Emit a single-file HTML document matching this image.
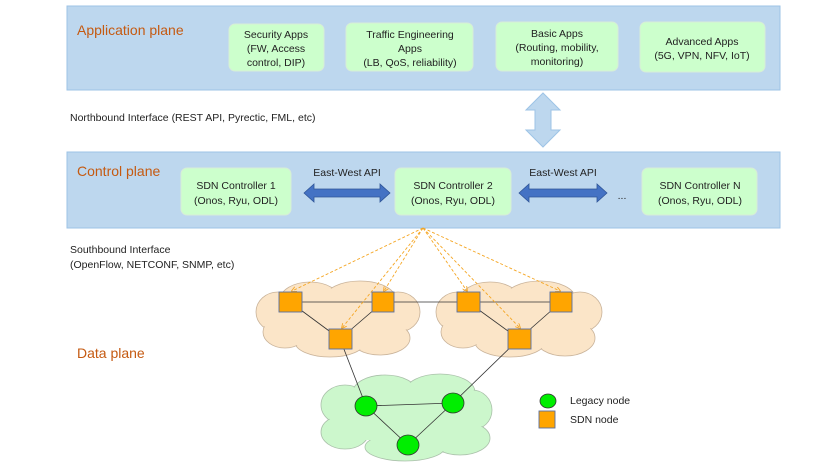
<!DOCTYPE html>
<html><head><meta charset="utf-8"><style>
html,body{margin:0;padding:0;background:#fff;}
svg{display:block;font-family:"Liberation Sans",sans-serif;}
</style></head><body>
<svg width="830" height="467" viewBox="0 0 830 467" xmlns="http://www.w3.org/2000/svg">
<defs>
<marker id="ah" markerWidth="6" markerHeight="6" refX="5" refY="3" orient="auto"><path d="M0,0 L6,3 L0,6" fill="none" stroke="#f5a623" stroke-width="1"/></marker>
</defs>
<rect x="67" y="6" width="713" height="84" fill="#bdd7ee" stroke="#9dc3e6"/>
<rect x="67" y="152" width="713" height="76" fill="#bdd7ee" stroke="#9dc3e6"/>
<g fill="#c55a11" font-size="14">
<text x="77" y="35">Application plane</text>
<text x="77" y="176">Control plane</text>
<text x="77" y="358">Data plane</text>
</g>
<g fill="#ccffcc" stroke="#d8ecd8">
<rect x="229" y="24" width="95" height="47" rx="6"/>
<rect x="346" y="23" width="127" height="48" rx="6"/>
<rect x="496" y="22" width="122" height="49" rx="6"/>
<rect x="640" y="22" width="125" height="50" rx="6"/>
<rect x="181" y="168" width="110" height="47" rx="6"/>
<rect x="395" y="168" width="116" height="47" rx="6"/>
<rect x="642" y="168" width="115" height="47" rx="6"/>
</g>
<g font-size="10.5" fill="#222" text-anchor="middle">
<text x="276" y="38">Security Apps</text><text x="276" y="52">(FW, Access</text><text x="276" y="66">control, DIP)</text>
<text x="410" y="38">Traffic Engineering</text><text x="410" y="52">Apps</text><text x="410" y="66">(LB, QoS, reliability)</text>
<text x="557" y="37">Basic Apps</text><text x="557" y="51">(Routing, mobility,</text><text x="557" y="65">monitoring)</text>
<text x="702" y="45">Advanced Apps</text><text x="702" y="59">(5G, VPN, NFV, IoT)</text>
<text x="236" y="189">SDN Controller 1</text><text x="236" y="204">(Onos, Ryu, ODL)</text>
<text x="453" y="189">SDN Controller 2</text><text x="453" y="204">(Onos, Ryu, ODL)</text>
<text x="700" y="189">SDN Controller N</text><text x="700" y="204">(Onos, Ryu, ODL)</text>
<text x="347" y="176">East-West API</text>
<text x="563" y="176">East-West API</text>
<text x="622" y="199">...</text>
</g>
<g font-size="10.5" fill="#222">
<text x="70" y="121">Northbound Interface (REST API, Pyrectic, FML, etc)</text>
<text x="70" y="253">Southbound Interface</text>
<text x="70" y="268">(OpenFlow, NETCONF, SNMP, etc)</text>
<text x="570" y="404">Legacy node</text>
<text x="570" y="423">SDN node</text>
</g>
<path d="M304,193 L314,184 L314,189 L380,189 L380,184 L390,193 L380,202 L380,197 L314,197 L314,202 Z" fill="#4472c4" stroke="#2f5597" stroke-width="0.8"/>
<path d="M519,193 L529,184 L529,189 L597,189 L597,184 L607,193 L597,202 L597,197 L529,197 L529,202 Z" fill="#4472c4" stroke="#2f5597" stroke-width="0.8"/>
<path d="M543,93 L560,110 L551,110 L551,130 L560,130 L543,147 L526,130 L535,130 L535,110 L526,110 Z" fill="#bdd7ee" stroke="#9dc3e6"/>
<g>
<g fill="#fbe5c8" stroke="#c9b39a" stroke-width="0.8">
<ellipse cx="278" cy="312" rx="22" ry="20"/><ellipse cx="310" cy="300" rx="30" ry="18"/><ellipse cx="360" cy="298" rx="35" ry="17"/><ellipse cx="398" cy="312" rx="22" ry="20"/><ellipse cx="380" cy="338" rx="30" ry="17"/><ellipse cx="330" cy="342" rx="35" ry="15"/><ellipse cx="285" cy="332" rx="22" ry="16"/>
<ellipse cx="458" cy="312" rx="22" ry="20"/><ellipse cx="490" cy="300" rx="30" ry="18"/><ellipse cx="540" cy="298" rx="35" ry="17"/><ellipse cx="580" cy="312" rx="22" ry="20"/><ellipse cx="565" cy="338" rx="30" ry="18"/><ellipse cx="510" cy="342" rx="35" ry="15"/><ellipse cx="463" cy="332" rx="22" ry="16"/>
</g>
<g fill="#fbe5c8">
<ellipse cx="278" cy="312" rx="21" ry="19"/><ellipse cx="310" cy="300" rx="29" ry="17"/><ellipse cx="360" cy="298" rx="34" ry="16"/><ellipse cx="398" cy="312" rx="21" ry="19"/><ellipse cx="380" cy="338" rx="29" ry="16"/><ellipse cx="330" cy="342" rx="34" ry="14"/><ellipse cx="285" cy="332" rx="21" ry="15"/><rect x="280" y="300" width="120" height="40"/>
<ellipse cx="458" cy="312" rx="21" ry="19"/><ellipse cx="490" cy="300" rx="29" ry="17"/><ellipse cx="540" cy="298" rx="34" ry="16"/><ellipse cx="580" cy="312" rx="21" ry="19"/><ellipse cx="565" cy="338" rx="29" ry="17"/><ellipse cx="510" cy="342" rx="34" ry="14"/><ellipse cx="463" cy="332" rx="21" ry="15"/><rect x="460" y="300" width="120" height="40"/>
</g>
<g fill="#ccf7cc" stroke="#aac0aa" stroke-width="0.8">
<ellipse cx="345" cy="405" rx="24" ry="20"/><ellipse cx="385" cy="392" rx="32" ry="17"/><ellipse cx="440" cy="392" rx="35" ry="18"/><ellipse cx="472" cy="410" rx="20" ry="20"/><ellipse cx="460" cy="438" rx="30" ry="17"/><ellipse cx="405" cy="447" rx="40" ry="14"/><ellipse cx="345" cy="432" rx="24" ry="17"/>
</g>
<g fill="#ccf7cc">
<ellipse cx="345" cy="405" rx="23" ry="19"/><ellipse cx="385" cy="392" rx="31" ry="16"/><ellipse cx="440" cy="392" rx="34" ry="17"/><ellipse cx="472" cy="410" rx="19" ry="19"/><ellipse cx="460" cy="438" rx="29" ry="16"/><ellipse cx="405" cy="447" rx="39" ry="13"/><ellipse cx="345" cy="432" rx="23" ry="16"/><rect x="345" y="395" width="125" height="45"/>
</g>
</g>
<g stroke="#333" stroke-width="0.8">
<line x1="290" y1="302" x2="561" y2="302"/>
<line x1="290" y1="302" x2="340" y2="339"/><line x1="383" y1="302" x2="340" y2="339"/>
<line x1="468" y1="302" x2="519" y2="339"/><line x1="561" y1="302" x2="519" y2="339"/>
<line x1="340" y1="339" x2="366" y2="406"/><line x1="519" y1="339" x2="453" y2="403"/>
<line x1="366" y1="406" x2="453" y2="403"/><line x1="366" y1="406" x2="408" y2="445"/><line x1="453" y1="403" x2="408" y2="445"/>
</g>
<g stroke="#f5a623" stroke-width="0.9" stroke-dasharray="3,2" fill="none" marker-end="url(#ah)">
<line x1="423" y1="228" x2="292" y2="291"/>
<line x1="423" y1="228" x2="384" y2="291"/>
<line x1="423" y1="228" x2="342" y2="328"/>
<line x1="423" y1="228" x2="467" y2="291"/>
<line x1="423" y1="228" x2="520" y2="328"/>
<line x1="423" y1="228" x2="560" y2="291"/>
</g>
<g fill="#ffa500" stroke="#5a6fa0" stroke-width="0.9">
<rect x="279" y="292" width="23" height="20"/>
<rect x="372" y="292" width="22" height="20"/>
<rect x="329" y="329" width="23" height="20"/>
<rect x="457" y="292" width="23" height="20"/>
<rect x="550" y="292" width="22" height="20"/>
<rect x="508" y="329" width="23" height="20"/>
<rect x="539" y="411" width="16" height="17"/>
</g>
<g fill="#00ee00" stroke="#333" stroke-width="0.8">
<ellipse cx="366" cy="406" rx="11" ry="10"/>
<ellipse cx="453" cy="403" rx="11" ry="10"/>
<ellipse cx="408" cy="445" rx="11" ry="10"/>
<ellipse cx="548" cy="401" rx="8" ry="7"/>
</g>
</svg>
</body></html>
